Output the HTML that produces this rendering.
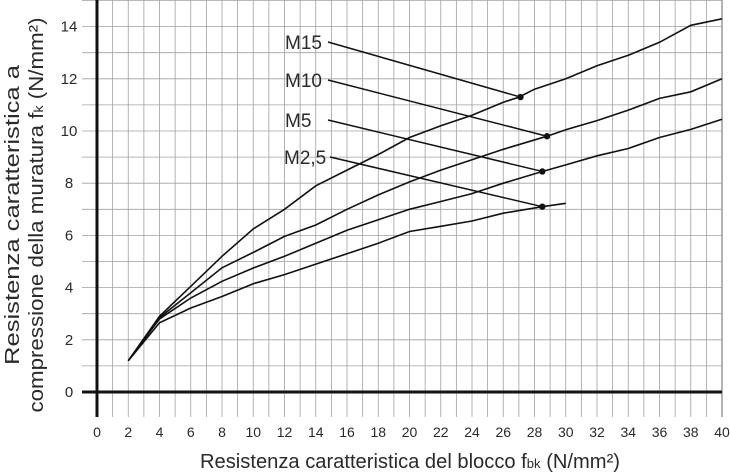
<!DOCTYPE html>
<html><head><meta charset="utf-8"><style>
html,body{margin:0;padding:0;background:#fff;}
svg{display:block;}
text{font-family:"Liberation Sans",sans-serif;fill:#2a2a2a;}
</style></head><body>
<svg id="chart" width="730" height="475" viewBox="0 0 730 475" xmlns="http://www.w3.org/2000/svg">
<g id="grid"></g>
<g id="axes"></g>
<g id="series"></g>
<g id="labels"></g>
<text transform="translate(19,215) rotate(-90)" text-anchor="middle" font-size="20" textLength="300" lengthAdjust="spacingAndGlyphs">Resistenza caratteristica a</text>
<text transform="translate(43,215) rotate(-90)" text-anchor="middle" font-size="20" textLength="395" lengthAdjust="spacingAndGlyphs">compressione della muratura f<tspan font-size="13">k</tspan> (N/mm²)</text>
<text x="410" y="468" text-anchor="middle" font-size="20" textLength="420" lengthAdjust="spacingAndGlyphs">Resistenza caratteristica del blocco f<tspan font-size="13">bk</tspan> (N/mm²)</text>
</svg>
<script>
const xTicks=[0,2,4,6,8,10,12,14,16,18,20,22,24,26,28,30,32,34,36,38,40];
const yTicks=[0,2,4,6,8,10,12,14];
const seriesNames=["M15","M10","M5","M2,5"];
const m15X=[2,4,6,8,10,12,14,16,18,20,22,24,26,27,28,30,32,34,36,38,40];
const m15Y=[1.2,2.9,4.05,5.2,6.25,7.0,7.9,8.5,9.1,9.75,10.2,10.6,11.1,11.3,11.6,12.0,12.5,12.9,13.4,14.05,14.3];
const m10X=[2,4,6,8,10,12,14,16,18,20,22,24,26,28.8,30,32,34,36,38,40];
const m10Y=[1.2,2.85,3.8,4.76,5.35,5.96,6.4,7.0,7.55,8.05,8.5,8.9,9.3,9.8,10.05,10.4,10.8,11.25,11.5,12.0];
const m5X=[2,4,6,8,10,12,14,16,18,20,22,24,26,28.5,30,32,34,36,38,40];
const m5Y=[1.2,2.8,3.6,4.24,4.75,5.2,5.7,6.2,6.6,7.0,7.3,7.6,8.0,8.45,8.7,9.05,9.33,9.75,10.06,10.45];
const m25X=[2,4,6,8,10,12,14,16,18,20,22,24,26,28.5,30];
const m25Y=[1.2,2.65,3.22,3.66,4.15,4.5,4.9,5.3,5.7,6.15,6.35,6.55,6.85,7.1,7.23];
const dotX=[27.1,28.8,28.5,28.5];
const dotY=[11.3,9.8,8.45,7.1];

const NS="http://www.w3.org/2000/svg";
const X0=97,X1=722,Y0=392,YU=26.1;
const sx=v=>X0+(X1-X0)*v/40;
const sy=v=>Y0-YU*v;
function mk(tag,parent,attrs){const e=document.createElementNS(NS,tag);for(const k in attrs)e.setAttribute(k,attrs[k]);parent.appendChild(e);return e;}
const grid=document.getElementById('grid'),axes=document.getElementById('axes'),ser=document.getElementById('series'),lab=document.getElementById('labels');
for(let i=1;i<=40;i++){
  const l=mk('line',grid,{x1:sx(i),x2:sx(i),y1:0,y2:417,stroke:'#a0a0a0','stroke-width':i===40?1.6:0.8});
  
  
}
for(let j=1;j<=15;j++){
  const l=mk('line',grid,{x1:82,x2:X1,y1:sy(j),y2:sy(j),stroke:'#a0a0a0','stroke-width':0.8});
  
  
}
const ya=mk('line',axes,{x1:X0,x2:X0,y1:0,y2:417,stroke:'#111','stroke-width':3});


const za=mk('line',axes,{x1:82,x2:X1,y1:Y0,y2:Y0,stroke:'#111','stroke-width':3});


xTicks.forEach(t=>{
  const e=mk('text',axes,{x:sx(t),y:437,'text-anchor':'middle','font-size':14});
  e.textContent=t;
  
  
});
yTicks.forEach(t=>{
  const e=mk('text',axes,{x:69,y:sy(t)+5,'text-anchor':'middle','font-size':15});
  e.textContent=t;
  
  
});
const allX=[m15X,m10X,m5X,m25X],allY=[m15Y,m10Y,m5Y,m25Y];
allX.forEach((xs,k)=>{
  const d=xs.map((x,i)=>(i?'L':'M')+sx(x).toFixed(1)+' '+sy(allY[k][i]).toFixed(1)).join(' ');
  const p=mk('path',ser,{d:d,fill:'none',stroke:'#111','stroke-width':1.6});
  
  
});
const labX=[285,285,285,284],labY=[42,80,120,157],lineStart=[328,328,328,330];
seriesNames.forEach((n,k)=>{
  const t=mk('text',lab,{x:labX[k],y:labY[k]+7,'font-size':19});
  t.textContent=n;
  
  
  const l=mk('line',lab,{x1:lineStart[k],y1:labY[k],x2:sx(dotX[k]),y2:sy(dotY[k]),stroke:'#111','stroke-width':1.5});
  
  
  const c=mk('circle',lab,{cx:sx(dotX[k]),cy:sy(dotY[k]),r:3.2,fill:'#111'});
  
  
});
</script>
</body></html>
